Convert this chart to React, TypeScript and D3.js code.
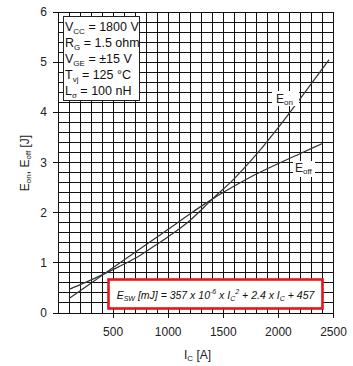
import React from "react";
import * as d3 from "d3";

// Eon / Eoff switching energy vs collector current
const eonCurrent = [100, 250, 400, 550, 700, 850, 1000, 1200, 1400, 1600, 1800, 2000, 2200, 2460];
const eonEnergy = [0.47, 0.61, 0.76, 0.92, 1.09, 1.3, 1.52, 1.85, 2.27, 2.68, 3.16, 3.7, 4.28, 5.05];

const eoffCurrent = [100, 250, 400, 550, 700, 850, 1000, 1200, 1400, 1600, 1800, 2000, 2200, 2400];
const eoffEnergy = [0.29, 0.52, 0.75, 0.98, 1.21, 1.44, 1.67, 1.98, 2.27, 2.53, 2.77, 2.98, 3.18, 3.38];

const xTicks = [500, 1000, 1500, 2000, 2500];
const yTicks = [0, 1, 2, 3, 4, 5, 6];

const W = 353;
const H = 366;
const FONT = "'Liberation Sans', Arial, sans-serif";

const App = () => {
  const x = d3.scaleLinear().domain([0, 2500]).range([58, 333.5]);
  const y = d3.scaleLinear().domain([0, 6]).range([313, 12]);

  const vGrid = d3.range(100, 2500, 100);
  const hGrid = d3.range(0.2, 6, 0.2);

  const line = d3
    .line<[number, number]>()
    .x((d) => x(d[0]))
    .y((d) => y(d[1]))
    .curve(d3.curveMonotoneX);

  const eon = line(eonCurrent.map((c, i) => [c, eonEnergy[i]]));
  const eoff = line(eoffCurrent.map((c, i) => [c, eoffEnergy[i]]));

  const sub = (t: string) => (
    <tspan fontSize={8} dy={3}>
      {t}
    </tspan>
  );

  const params = [
    ["V", "CC", " = 1800 V"],
    ["R", "G", " = 1.5 ohm"],
    ["V", "GE", " = \u00b115 V"],
    ["T", "vj", " = 125 \u00b0C"],
    ["L", "\u03c3", " = 100 nH"],
  ];

  return (
    <svg width={W} height={H} style={{ position: "absolute", left: 0, top: 0 }} fontFamily={FONT}>
      <rect width={W} height={H} fill="#fff" />
      {/* grid */}
      <g stroke="#111" strokeWidth={1} shapeRendering="crispEdges">
        {vGrid.map((v) => (
          <line key={"v" + v} x1={x(v)} x2={x(v)} y1={y(0)} y2={y(6)} />
        ))}
        {hGrid.map((v) => (
          <line key={"h" + v} x1={x(0)} x2={x(2500)} y1={y(v)} y2={y(v)} />
        ))}
        <rect x={x(0)} y={y(6)} width={x(2500) - x(0)} height={y(0) - y(6)} fill="none" />
        {xTicks.map((t) => (
          <line key={"xt" + t} x1={x(t)} x2={x(t)} y1={y(0)} y2={y(0) + 5} />
        ))}
        {yTicks.map((t) => (
          <line key={"yt" + t} x1={x(0) - 5} x2={x(0)} y1={y(t)} y2={y(t)} />
        ))}
      </g>

      {/* curves */}
      <path d={eon || ""} fill="none" stroke="#333" strokeWidth={1.2} />
      <path d={eoff || ""} fill="none" stroke="#333" strokeWidth={1.2} />

      {/* curve labels */}
      <rect x={272} y={91} width={27} height={15} fill="#fff" />
      <text x={276} y={103} fontSize={12} fill="#222">
        E<tspan fontSize={8} dy={2}>on</tspan>
      </text>
      <rect x={293} y={161} width={22} height={16} fill="#fff" />
      <text x={295} y={172} fontSize={12} fill="#222">
        E<tspan fontSize={8} dy={2}>off</tspan>
      </text>

      {/* parameter box */}
      <rect x={63.5} y={16.5} width={76} height={84} fill="#fff" stroke="#222" strokeWidth={1} />
      {params.map((p, i) => (
        <text key={i} x={65} y={31 + i * 16} fontSize={12.5} fill="#111">
          {p[0]}
          {sub(p[1])}
          <tspan dy={-3}>{p[2]}</tspan>
        </text>
      ))}

      {/* formula box */}
      <rect x={108.5} y={279.5} width={214} height={29} fill="#fff" stroke="#e8141c" strokeWidth={2.6} />
      <text x={215.5} y={299} fontSize={10.5} fontStyle="italic" textAnchor="middle" fill="#111">
        E<tspan fontSize={7} dy={2}>SW</tspan>
        <tspan dy={-2}> [mJ] = 357 x 10</tspan>
        <tspan fontSize={7} dy={-5}>-6</tspan>
        <tspan dy={5}> x I</tspan>
        <tspan fontSize={7} dy={2}>C</tspan>
        <tspan fontSize={7} dy={-7}>2</tspan>
        <tspan dy={5}> + 2.4 x I</tspan>
        <tspan fontSize={7} dy={2}>C</tspan>
        <tspan dy={-2}> + 457</tspan>
      </text>

      {/* tick labels */}
      {xTicks.map((t) => (
        <text key={"xl" + t} x={x(t)} y={336} fontSize={12} textAnchor="middle" fill="#222">
          {t}
        </text>
      ))}
      {yTicks.map((t) => (
        <text key={"yl" + t} x={47} y={y(t) + 4} fontSize={12} textAnchor="end" fill="#222">
          {t}
        </text>
      ))}

      {/* axis titles */}
      <text x={184} y={359} fontSize={12} fill="#222">
        I<tspan fontSize={8} dy={2}>C</tspan>
        <tspan dy={-2}> [A]</tspan>
      </text>
      <text transform="translate(29,163) rotate(-90)" fontSize={12} textAnchor="middle" fill="#222">
        E<tspan fontSize={8} dy={2}>on</tspan>
        <tspan dy={-2}>, E</tspan>
        <tspan fontSize={8} dy={2}>off</tspan>
        <tspan dy={-2}> [J]</tspan>
      </text>
    </svg>
  );
};

export default App;
